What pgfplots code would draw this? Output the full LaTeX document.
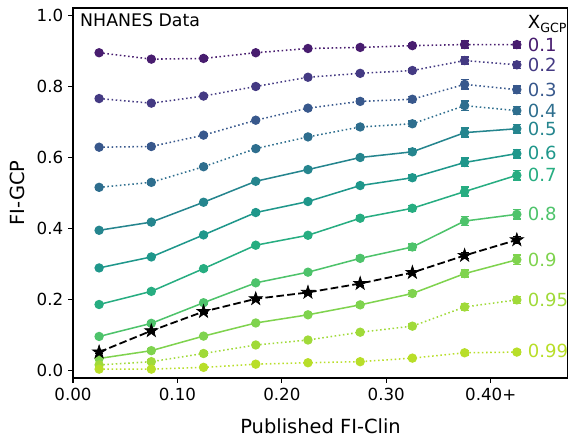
\documentclass[border=0pt]{standalone}
\usepackage{fontspec}
\setmainfont{DejaVu Sans}
\usepackage{pgfplots}
\pgfplotsset{compat=1.18}
% viridis, sampled at 0.9*X
\definecolor{v01}{HTML}{481D6F}
\definecolor{v02}{HTML}{443A83}
\definecolor{v03}{HTML}{38588C}
\definecolor{v04}{HTML}{2E6E8E}
\definecolor{v05}{HTML}{25858E}
\definecolor{v06}{HTML}{1F978B}
\definecolor{v07}{HTML}{27AD81}
\definecolor{v08}{HTML}{4EC36B}
\definecolor{v09}{HTML}{7FD34E}
\definecolor{v095}{HTML}{A0DA39}
\definecolor{v099}{HTML}{B8DE29}

% filled five-pointed star, like matplotlib's '*'
\pgfdeclareplotmark{fstar}{%
  \pgfpathmoveto{\pgfqpointpolar{90}{\pgfplotmarksize}}%
  \pgfpathlineto{\pgfqpointpolar{126}{0.382\pgfplotmarksize}}%
  \pgfpathlineto{\pgfqpointpolar{162}{\pgfplotmarksize}}%
  \pgfpathlineto{\pgfqpointpolar{198}{0.382\pgfplotmarksize}}%
  \pgfpathlineto{\pgfqpointpolar{234}{\pgfplotmarksize}}%
  \pgfpathlineto{\pgfqpointpolar{270}{0.382\pgfplotmarksize}}%
  \pgfpathlineto{\pgfqpointpolar{306}{\pgfplotmarksize}}%
  \pgfpathlineto{\pgfqpointpolar{342}{0.382\pgfplotmarksize}}%
  \pgfpathlineto{\pgfqpointpolar{18}{\pgfplotmarksize}}%
  \pgfpathlineto{\pgfqpointpolar{54}{0.382\pgfplotmarksize}}%
  \pgfpathclose
  \pgfusepathqfillstroke}

\tikzset{
  dotline/.style={color=#1, line width=1.1pt, dash pattern=on 1.1pt off 1.9pt,
    mark=*, mark size=2.8pt, mark options={solid, fill=#1, draw=#1}},
  solline/.style={color=#1, line width=1.1pt,
    mark=*, mark size=2.8pt, mark options={solid, fill=#1, draw=#1}},
  lab/.style={anchor=west, inner sep=0pt, text=#1, font=\fontsize{13}{15}\selectfont},
}

\begin{document}
\begin{tikzpicture}
\begin{axis}[
  name=ax, scale only axis, width=356.4pt, height=266.4pt,
  xmin=0, xmax=0.474, ymin=-0.022, ymax=1.02,
  xtick={0,0.1,0.2,0.3,0.4}, xticklabels={0.00,0.10,0.20,0.30,0.40+},
  ytick={0,0.2,0.4,0.6,0.8,1.0}, yticklabels={0.0,0.2,0.4,0.6,0.8,1.0},
  tick align=outside, major tick length=3.5pt,
  xtick pos=bottom, ytick pos=left,
  tick label style={font=\fontsize{12}{14}\selectfont},
  axis line style={line width=0.8pt}, every tick/.style={black, line width=0.8pt},
  xlabel={Published FI-Clin}, ylabel={FI-GCP},
  label style={font=\fontsize{14}{16}\selectfont},
  xlabel style={yshift=-6pt}, ylabel style={yshift=2pt},
  clip=false,
  error bars/y dir=both, error bars/y explicit,
  error bars/error bar style={line width=1.1pt},
  error bars/error mark options={rotate=90, mark size=2.9pt, line width=1.1pt},
]
\addplot[dotline=v01] coordinates {
  (0.025,0.894) +- (0,0.004) (0.075,0.876) +- (0,0.004) (0.125,0.878) +- (0,0.004)
  (0.175,0.894) +- (0,0.004) (0.225,0.906) +- (0,0.004) (0.275,0.909) +- (0,0.004)
  (0.325,0.914) +- (0,0.005) (0.375,0.917) +- (0,0.010) (0.425,0.917) +- (0,0.009)};
\addplot[dotline=v02] coordinates {
  (0.025,0.765) +- (0,0.004) (0.075,0.752) +- (0,0.004) (0.125,0.772) +- (0,0.004)
  (0.175,0.799) +- (0,0.004) (0.225,0.825) +- (0,0.004) (0.275,0.836) +- (0,0.005)
  (0.325,0.844) +- (0,0.006) (0.375,0.872) +- (0,0.010) (0.425,0.860) +- (0,0.010)};
\addplot[dotline=v03] coordinates {
  (0.025,0.628) +- (0,0.004) (0.075,0.630) +- (0,0.004) (0.125,0.662) +- (0,0.004)
  (0.175,0.704) +- (0,0.004) (0.225,0.738) +- (0,0.005) (0.275,0.757) +- (0,0.006)
  (0.325,0.763) +- (0,0.008) (0.375,0.805) +- (0,0.013) (0.425,0.790) +- (0,0.011)};
\addplot[dotline=v04] coordinates {
  (0.025,0.515) +- (0,0.004) (0.075,0.529) +- (0,0.004) (0.125,0.573) +- (0,0.004)
  (0.175,0.624) +- (0,0.004) (0.225,0.657) +- (0,0.005) (0.275,0.685) +- (0,0.006)
  (0.325,0.694) +- (0,0.008) (0.375,0.745) +- (0,0.013) (0.425,0.731) +- (0,0.011)};
\addplot[solline=v05] coordinates {
  (0.025,0.394) +- (0,0.004) (0.075,0.417) +- (0,0.004) (0.125,0.473) +- (0,0.004)
  (0.175,0.532) +- (0,0.004) (0.225,0.565) +- (0,0.005) (0.275,0.599) +- (0,0.006)
  (0.325,0.615) +- (0,0.008) (0.375,0.669) +- (0,0.013) (0.425,0.680) +- (0,0.012)};
\addplot[solline=v06] coordinates {
  (0.025,0.288) +- (0,0.004) (0.075,0.319) +- (0,0.004) (0.125,0.381) +- (0,0.004)
  (0.175,0.444) +- (0,0.004) (0.225,0.475) +- (0,0.005) (0.275,0.520) +- (0,0.006)
  (0.325,0.542) +- (0,0.008) (0.375,0.585) +- (0,0.012) (0.425,0.610) +- (0,0.012)};
\addplot[solline=v07] coordinates {
  (0.025,0.185) +- (0,0.004) (0.075,0.222) +- (0,0.004) (0.125,0.286) +- (0,0.004)
  (0.175,0.352) +- (0,0.004) (0.225,0.380) +- (0,0.005) (0.275,0.428) +- (0,0.006)
  (0.325,0.456) +- (0,0.008) (0.375,0.503) +- (0,0.013) (0.425,0.549) +- (0,0.013)};
\addplot[solline=v08] coordinates {
  (0.025,0.095) +- (0,0.004) (0.075,0.132) +- (0,0.004) (0.125,0.190) +- (0,0.004)
  (0.175,0.246) +- (0,0.004) (0.225,0.276) +- (0,0.005) (0.275,0.315) +- (0,0.006)
  (0.325,0.347) +- (0,0.008) (0.375,0.420) +- (0,0.013) (0.425,0.439) +- (0,0.013)};
\addplot[solline=v09] coordinates {
  (0.025,0.033) +- (0,0.004) (0.075,0.055) +- (0,0.004) (0.125,0.096) +- (0,0.004)
  (0.175,0.133) +- (0,0.004) (0.225,0.156) +- (0,0.005) (0.275,0.184) +- (0,0.006)
  (0.325,0.216) +- (0,0.008) (0.375,0.272) +- (0,0.010) (0.425,0.311) +- (0,0.013)};
\addplot[dotline=v095] coordinates {
  (0.025,0.015) +- (0,0.004) (0.075,0.024) +- (0,0.004) (0.125,0.047) +- (0,0.004)
  (0.175,0.071) +- (0,0.004) (0.225,0.085) +- (0,0.004) (0.275,0.107) +- (0,0.005)
  (0.325,0.124) +- (0,0.006) (0.375,0.178) +- (0,0.010) (0.425,0.198) +- (0,0.010)};
\addplot[dotline=v099] coordinates {
  (0.025,0.003) +- (0,0.003) (0.075,0.003) +- (0,0.003) (0.125,0.008) +- (0,0.003)
  (0.175,0.017) +- (0,0.003) (0.225,0.021) +- (0,0.003) (0.275,0.024) +- (0,0.004)
  (0.325,0.034) +- (0,0.004) (0.375,0.049) +- (0,0.006) (0.425,0.051) +- (0,0.006)};
\addplot[black, line width=1.3pt, dash pattern=on 5.5pt off 2.4pt,
  mark=fstar, mark size=5pt, mark options={solid, fill=black, line width=0.5pt}] coordinates {
  (0.025,0.051) +- (0,0.004) (0.075,0.111) +- (0,0.004) (0.125,0.165) +- (0,0.004)
  (0.175,0.201) +- (0,0.004) (0.225,0.219) +- (0,0.005) (0.275,0.244) +- (0,0.006)
  (0.325,0.275) +- (0,0.006) (0.375,0.323) +- (0,0.008) (0.425,0.367) +- (0,0.010)};

\node[anchor=north west, inner sep=0pt, font=\fontsize{12.5}{15}\selectfont]
  at (rel axis cs:0.014,0.985) {NHANES Data};
\node[anchor=west, inner sep=0pt, font=\fontsize{13}{15}\selectfont]
  at (axis cs:0.4354,0.975) {X\textsubscript{GCP}};
\node[lab=v01] at (axis cs:0.4354,0.917) {0.1};
\node[lab=v02] at (axis cs:0.4354,0.859) {0.2};
\node[lab=v03] at (axis cs:0.4354,0.790) {0.3};
\node[lab=v04] at (axis cs:0.4354,0.729) {0.4};
\node[lab=v05] at (axis cs:0.4354,0.679) {0.5};
\node[lab=v06] at (axis cs:0.4354,0.611) {0.6};
\node[lab=v07] at (axis cs:0.4354,0.549) {0.7};
\node[lab=v08] at (axis cs:0.4354,0.441) {0.8};
\node[lab=v09] at (axis cs:0.4354,0.310) {0.9};
\node[lab=v095] at (axis cs:0.4354,0.197) {0.95};
\node[lab=v099] at (axis cs:0.4354,0.053) {0.99};
\end{axis}
\pgfresetboundingbox
\useasboundingbox ([xshift=-52.56pt,yshift=-44.64pt]ax.south west)
  rectangle ([yshift=5.76pt]ax.north east);
\end{tikzpicture}
\end{document}
